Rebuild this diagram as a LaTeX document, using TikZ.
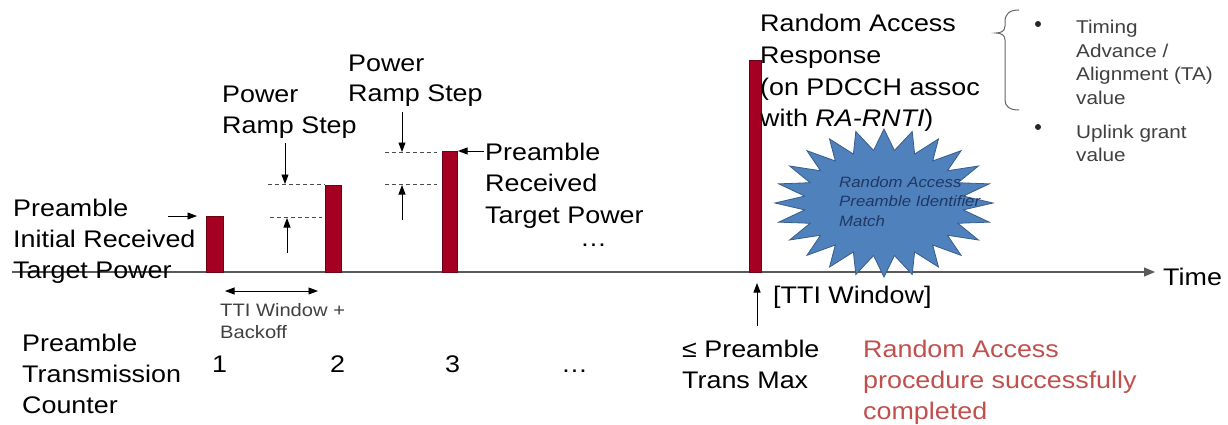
\documentclass[tikz,border=0pt]{standalone}
\usepackage{fontspec}
\setmainfont{Liberation Sans}[FakeStretch=1.12]
\usetikzlibrary{arrows.meta}
\definecolor{barred}{HTML}{A50021}
\definecolor{baredge}{HTML}{6E0016}
\definecolor{starfill}{HTML}{4F81BD}
\definecolor{staredge}{HTML}{385D8A}
\definecolor{startext}{HTML}{1F3864}
\definecolor{graytext}{HTML}{404040}
\definecolor{redtext}{HTML}{C0504D}
\definecolor{axisgray}{HTML}{5A5A5A}
\begin{document}
\begin{tikzpicture}[x=1pt,y=-1pt,
  txt/.style={anchor=base west, inner sep=0pt, align=left, font=\fontsize{24}{31}\selectfont},
  smalltxt/.style={anchor=base west, inner sep=0pt, align=left, text=graytext, font=\fontsize{18.5}{23.5}\selectfont},
  bartop/.style={fill=barred, draw=baredge, line width=0.8pt},
  dashline/.style={dashed, dash pattern=on 4pt off 3pt, line width=0.8pt, draw=black!70},
  ptr/.style={-{Triangle[length=9.5pt,width=7pt]}, line width=0.9pt},
  dptr/.style={{Triangle[length=9.5pt,width=7pt]}-{Triangle[length=9.5pt,width=7pt]}, line width=0.9pt},
  axisline/.style={-{Triangle[length=11pt,width=9pt]}, line width=1.3pt, draw=axisgray, fill=axisgray}
]
\useasboundingbox (0,0) rectangle (1228,425);

% axis
\coordinate (ax0) at (12,272);
\coordinate (ax1) at (1155,272);
\draw[axisline] (ax0) -- (ax1);
\node[txt] (time) at (1163,285) {Time};

% bars
\draw[bartop] (206,216) rectangle (223,272);
\draw[bartop] (325,185) rectangle (341,272);
\draw[bartop] (442,151) rectangle (457,272);
\draw[bartop] (749,60) rectangle (761,272);

% dashed levels
\coordinate (d1a) at (268,184); \coordinate (d1b) at (325,184);
\coordinate (d2a) at (270,217); \coordinate (d2b) at (322,217);
\coordinate (d3a) at (385,152); \coordinate (d3b) at (437,152);
\coordinate (d4a) at (385,184); \coordinate (d4b) at (437,184);
\draw[dashline] (d1a) -- (d1b);
\draw[dashline] (d2a) -- (d2b);
\draw[dashline] (d3a) -- (d3b);
\draw[dashline] (d4a) -- (d4b);

% arrows
\coordinate (s1t) at (285,143); \coordinate (s1h) at (285,184);
\coordinate (s2t) at (287,253); \coordinate (s2h) at (287,218);
\coordinate (s3t) at (402,112); \coordinate (s3h) at (402,152);
\coordinate (s4t) at (402,220); \coordinate (s4h) at (402,185);
\draw[ptr] (s1t) -- (s1h);
\draw[ptr] (s2t) -- (s2h);
\draw[ptr] (s3t) -- (s3h);
\draw[ptr] (s4t) -- (s4h);
\coordinate (p1t) at (168,216); \coordinate (p1h) at (197,216);
\draw[ptr] (p1t) -- (p1h);
\coordinate (p3t) at (484,151); \coordinate (p3h) at (458,151);
\draw[ptr] (p3t) -- (p3h);
\coordinate (ttia) at (225,291); \coordinate (ttib) at (318,291);
\draw[dptr] (ttia) -- (ttib);
\coordinate (p4t) at (757,326); \coordinate (p4h) at (757,283);
\draw[ptr] (p4t) -- (p4h);

% starburst
\filldraw[fill=starfill, draw=staredge, line width=0.8pt]
  (884,129)
  \foreach \a in {-90,-75,...,255} {
    -- ({884+80*cos(\a+7.5)},{203+53*sin(\a+7.5)})
    -- ({884+109*cos(\a+15)},{203+74*sin(\a+15)})
  } -- cycle;
\node[anchor=base west, inner sep=0pt, align=left, text=startext,
  font=\fontsize{15}{19.5}\selectfont\itshape] (match) at (839,226)
  {Random Access\\Preamble Identifier\\Match};

% texts (anchor = baseline of last line)
\node[txt] (initp) at (13,278) {Preamble\\Initial Received\\Target Power};
\node[txt, font=\fontsize{24}{30}\selectfont] (ramp1) at (222,133) {Power\\Ramp Step};
\node[txt, font=\fontsize{24}{30}\selectfont] (ramp2) at (348,102) {Power\\Ramp Step};
\node[txt, font=\fontsize{24}{31.5}\selectfont] (recp) at (485,223) {Preamble\\Received\\Target Power};
\node[txt] (dots1) at (580,246) {\dots};
\node[txt, font=\fontsize{24}{31.7}\selectfont] (rar) at (760,127) {Random Access\\Response\\(on PDCCH assoc\\with \textit{RA-RNTI})};

% brace and bullets
\draw[draw=black!60, line width=1pt]
  (1019,10) .. controls (1009,10) and (1005,14) .. (1005,22)
  -- (1005,26) .. controls (1005,31) and (1001,33) .. (996,33)
  .. controls (1001,33) and (1005,35) .. (1005,40)
  -- (1005,100) .. controls (1005,106) and (1009,110) .. (1019,110);
\coordinate (bul1) at (1038,24);
\coordinate (bul2) at (1038,127);
\fill[black!85] (bul1) circle (3);
\fill[black!85] (bul2) circle (3);
\node[smalltxt] (ta) at (1076,104.5) {Timing\\Advance /\\Alignment (TA)\\value};
\node[smalltxt] (ul) at (1076,161.5) {Uplink grant\\value};

% below axis
\node[smalltxt, font=\fontsize{18}{22}\selectfont] (tti) at (220,338) {TTI Window +\\Backoff};
\node[txt] (ttiw) at (773,303) {[TTI Window]};
\node[txt] (ptc) at (22,413) {Preamble\\Transmission\\Counter};
\node[txt] (c1) at (212,372) {1};
\node[txt] (c2) at (330,372) {2};
\node[txt] (c3) at (445,372) {3};
\node[txt] (c4) at (561,372) {\dots};
\node[txt] (ptm) at (682,388) {≤ Preamble\\Trans Max};
\node[txt, text=redtext] (done) at (863,419) {Random Access\\procedure successfully\\completed};
\end{tikzpicture}
\end{document}
